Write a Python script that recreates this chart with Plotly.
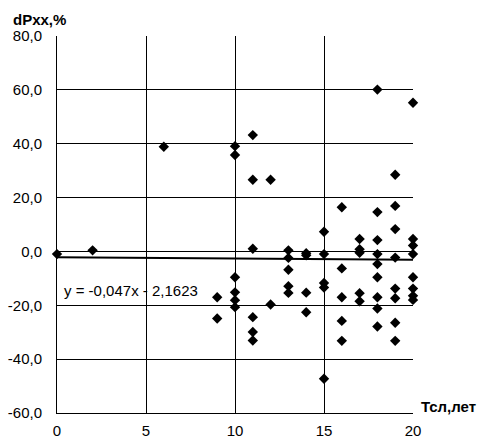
import plotly.graph_objects as go

# Service life (years)
t_years = [0, 2, 6,
           9, 9,
           10, 10, 10, 10, 10, 10,
           11, 11, 11, 11, 11, 11,
           12, 12,
           13, 13, 13, 13, 13,
           14, 14, 14, 14,
           15, 15, 15, 15, 15,
           16, 16, 16, 16, 16,
           17, 17, 17, 17, 17,
           18, 18, 18, 18, 18, 18, 18, 18, 18,
           19, 19, 19, 19, 19, 19, 19, 19,
           20, 20, 20, 20, 20, 20, 20, 20]
# dPxx, %
dp_xx = [-1.0, 0.4, 38.9,
         -17.0, -24.9,
         39.1, 35.8, -9.6, -15.2, -18.1, -20.7,
         43.2, 26.6, 1.0, -24.4, -29.9, -33.1,
         26.6, -19.7,
         0.4, -2.4, -6.8, -12.9, -15.4,
         -0.7, -1.4, -15.3, -22.6,
         7.3, -1.0, -11.7, -13.4, -47.3,
         16.4, -6.3, -17.0, -25.8, -33.2,
         4.6, 0.8, -0.5, -15.5, -18.5,
         60.1, 14.6, 4.2, -1.0, -4.7, -9.6, -17.0, -21.2, -27.9,
         28.5, 16.9, 8.3, -2.3, -13.8, -17.4, -26.5, -33.2,
         55.2, 4.6, 2.2, -1.0, -9.6, -13.8, -16.5, -18.0]

trend_slope = -0.047
trend_intercept = -2.1623
trend_x = [0, 20]
trend_y = [trend_slope * v + trend_intercept for v in trend_x]

y_tickvals = [-60, -40, -20, 0, 20, 40, 60, 80]
y_ticktext = ["-60,0", "-40,0", "-20,0", "0,0", "20,0", "40,0", "60,0", "80,0"]
x_tickvals = [0, 5, 10, 15, 20]
x_ticktext = ["0", "5", "10", "15", "20"]

FONT = "Liberation Sans, Arial, sans-serif"

fig = go.Figure()
fig.add_trace(go.Scatter(
    x=t_years, y=dp_xx, mode="markers",
    marker=dict(symbol="diamond", size=8, color="black"),
    showlegend=False, cliponaxis=False))
fig.add_trace(go.Scatter(
    x=trend_x, y=trend_y, mode="lines",
    line=dict(color="black", width=2),
    showlegend=False))

fig.update_layout(
    width=481, height=441,
    margin=dict(l=57, r=68, t=36, b=28, autoexpand=False),
    paper_bgcolor="white", plot_bgcolor="white",
    font=dict(family=FONT, size=15, color="black"),
    xaxis=dict(range=[0, 20], tickvals=x_tickvals, ticktext=x_ticktext,
               showgrid=True, gridcolor="black", gridwidth=1,
               zeroline=False, showline=True, linecolor="black", linewidth=1,
               mirror=False, ticks="", ticklabelstandoff=4, automargin=False,
               tickfont=dict(family=FONT, size=15, color="black")),
    yaxis=dict(range=[-60, 80], tickvals=y_tickvals, ticktext=y_ticktext,
               showgrid=True, gridcolor="black", gridwidth=1,
               zeroline=True, zerolinecolor="black", zerolinewidth=1,
               showline=True, linecolor="black", linewidth=1,
               ticks="", ticklabelstandoff=11, automargin=False,
               tickfont=dict(family=FONT, size=15, color="black")),
    annotations=[
        dict(text="y = -0,047x - 2,1623", xref="x", yref="y", x=0.3, y=-14.6,
             xanchor="left", yanchor="middle", showarrow=False,
             font=dict(family=FONT, size=15, color="black")),
        dict(text="<b>dPxx,%</b>", xref="paper", yref="paper", x=-0.129, y=1.044,
             xanchor="left", yanchor="middle", showarrow=False,
             font=dict(family=FONT, size=15, color="black")),
        dict(text="<b>Тсл,лет</b>", xref="paper", yref="paper", x=1.017, y=0.016,
             xanchor="left", yanchor="middle", showarrow=False,
             font=dict(family=FONT, size=15, color="black")),
    ],
)

fig.write_html("out.html")
